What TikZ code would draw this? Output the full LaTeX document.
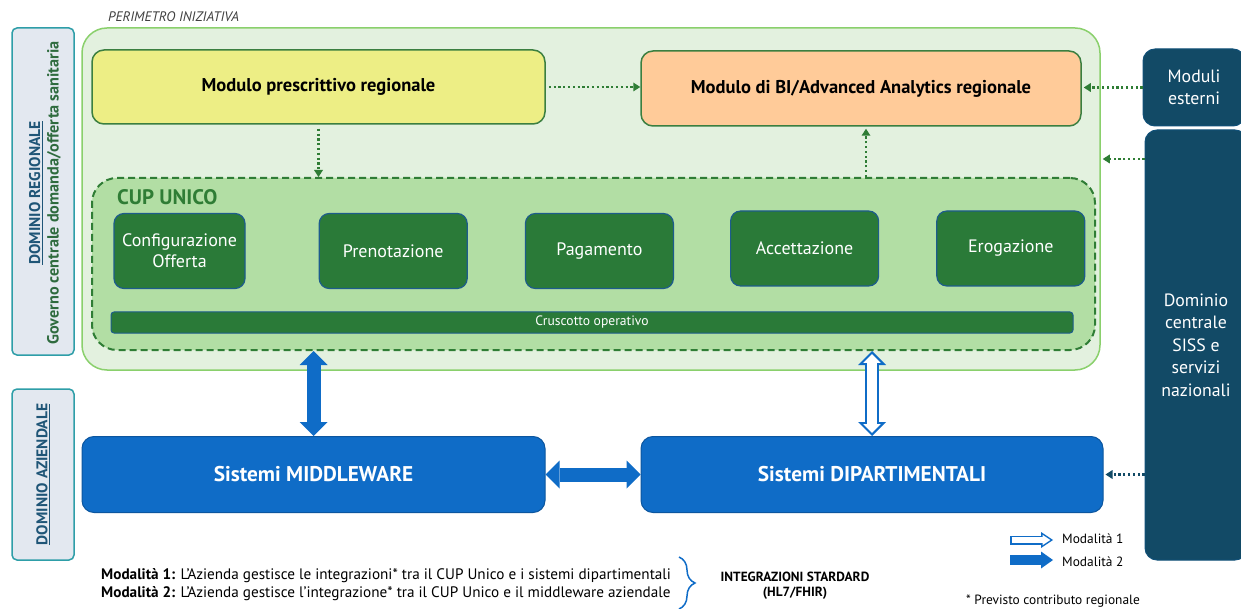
\documentclass[tikz,border=0pt]{standalone}
\usepackage{fontspec}
\setmainfont{PT Sans}
\usetikzlibrary{arrows.meta,positioning,decorations.pathreplacing}

\definecolor{perimfill}{HTML}{E3F1DF}
\definecolor{perimline}{HTML}{8AD06C}
\definecolor{prescr}{HTML}{EDEE85}
\definecolor{analytics}{HTML}{FFCB99}
\definecolor{modline}{HTML}{3B7F40}
\definecolor{cupfill}{HTML}{B2DEA4}
\definecolor{cupline}{HTML}{2F7D35}
\definecolor{funcfill}{HTML}{2A7A38}
\definecolor{funcline}{HTML}{1D5C8C}
\definecolor{navy}{HTML}{124A66}
\definecolor{sysblue}{HTML}{0F6CC7}
\definecolor{domfill}{HTML}{E3E8F0}
\definecolor{domline}{HTML}{2E9EA8}
\definecolor{domtext}{HTML}{1F5577}
\definecolor{govtext}{HTML}{2E6B3E}

\begin{document}
\begin{tikzpicture}[
    x=1pt, y=-1pt,
    every node/.style={inner sep=0pt},
    dombox/.style={rectangle, rounded corners=5pt, draw=domline, fill=domfill, line width=1.5pt, align=center, font=\fontsize{15.5}{19.5}\selectfont\bfseries},
    modbox/.style={rectangle, rounded corners=12pt, draw=modline, line width=1.5pt, font=\fontsize{18.5}{22}\selectfont\bfseries},
    func/.style={rectangle, rounded corners=10pt, draw=funcline, fill=funcfill, line width=1.2pt, text=white, minimum width=148pt, minimum height=75pt, align=center, font=\fontsize{18}{21}\selectfont},
    sys/.style={rectangle, rounded corners=12pt, draw=sysblue!80!black, fill=sysblue, line width=1pt, text=white, minimum width=463pt, minimum height=76pt, font=\fontsize{21.3}{24}\selectfont\bfseries},
    ext/.style={rectangle, rounded corners=12pt, draw=navy!80!sysblue, fill=navy, line width=1pt, text=white, minimum width=102pt, align=center, font=\fontsize{17.8}{22.5}\selectfont},
    flow/.style={cupline, line width=2.2pt, dash pattern=on 2.2pt off 2.6pt, -{Triangle[length=7pt,width=9pt,line width=0pt]}},
    both/.style={sysblue, line width=14pt, {Triangle[length=14pt,width=28pt,line width=0pt]}-{Triangle[length=14pt,width=28pt,line width=0pt]}},
    hollow/.style={white, line width=9.6pt, {Triangle[length=8.7pt,width=17.4pt,line width=0pt]}-{Triangle[length=8.7pt,width=17.4pt,line width=0pt]}, shorten <=3.1pt, shorten >=3.1pt},
    legarrow/.style={sysblue, line width=9pt, -{Triangle[length=12pt,width=16pt,line width=0pt]}, shorten >=9pt},
    legtext/.style={anchor=west, font=\fontsize{13.4}{15}\selectfont}
]
    \clip (0,0) rectangle (1241,609);
    \fill[white] (0,0) rectangle (1241,609);

    \node[dombox, rotate=90, minimum width=327pt, minimum height=62pt] (domreg) at (43,191.5) {};
    \node[rotate=90, align=center, font=\fontsize{16.2}{18.5}\selectfont\bfseries] (domreglbl) at (45,193)
        {\textcolor{domtext}{\fontsize{15.5}{18.5}\selectfont\underline{DOMINIO REGIONALE}}\\ \textcolor{govtext}{Governo centrale domanda/offerta sanitaria}};
    \node[dombox, rotate=90, minimum width=171pt, minimum height=62pt, text=domtext] (domaz) at (43,474.5)
        {\underline{DOMINIO AZIENDALE}};

    \node[draw=perimline, fill=perimfill, line width=1.5pt, rounded corners=25pt, minimum width=1018pt, minimum height=342pt] (perim) at (591,199) {};
    \node[anchor=west, font=\fontsize{13.8}{16}\selectfont\itshape, text=black!75] (perimlbl) at (108,17) {PERIMETRO INIZIATIVA};

    \node[modbox, fill=prescr, minimum width=453pt, minimum height=74pt] (prescr) at (318.5,87) {Modulo prescrittivo regionale};
    \node[modbox, fill=analytics, minimum width=440pt, minimum height=75pt] (bi) at (861,88.5) {Modulo di BI/Advanced Analytics regionale};

    \node[draw=cupline, fill=cupfill, line width=2pt, dash pattern=on 7pt off 4pt, rounded corners=25pt, minimum width=1003pt, minimum height=172pt] (cup) at (593.5,264) {};
    \node[anchor=west, text=cupline, font=\fontsize{21}{24}\selectfont\bfseries] (cuplbl) at (117,197) {CUP UNICO};

    \node[func, minimum width=131pt] (conf) at (179.5,251) {Configurazione\\Offerta};
    \node[func] (pren) [right=73pt of conf] {Prenotazione};
    \node[func] (pag) [right=57pt of pren] {Pagamento};
    \node[func] (acc) [right=56pt of pag, yshift=2.5pt] {Accettazione};
    \node[func] (ero) [right=57pt of acc] {Erogazione};
    \node[rectangle, rounded corners=3pt, draw=funcline, fill=funcfill, line width=1pt, text=white, minimum width=962pt, minimum height=21pt, font=\fontsize{13.6}{15}\selectfont] (crusc) at (592,322.5) {Cruscotto operativo};

    \node[ext, minimum height=77pt] (ext) at (1194,87.5) {Moduli\\esterni};
    \node[ext, minimum height=430pt] (siss) at (1196,345) {Dominio\\centrale\\SISS e\\servizi\\nazionali};

    \node[sys] (mw) at (313.5,474.5) {Sistemi MIDDLEWARE};
    \node[sys, minimum width=462pt] (dip) at (872,474.5) {Sistemi DIPARTIMENTALI};

    \draw[flow, shorten <=3pt] (prescr.east) -- (prescr.east -| bi.west);
    \draw[flow, shorten <=4pt] (prescr.south) -- (prescr.south |- cup.north);
    \draw[flow, shorten >=2pt] ([xshift=5pt]bi.south |- cup.north) -- ([xshift=5pt]bi.south);
    \draw[flow, shorten >=2pt] (ext.west) -- (ext.west -| bi.east);
    \coordinate (pin) at ([yshift=40pt]perim.east);
    \draw[flow, shorten >=2pt] (pin -| siss.west) -- (pin);
    \draw[flow, navy, shorten >=2pt] (dip.east -| siss.west) -- (dip.east);

    \draw[both] (mw.north |- cup.south) -- (mw.north);
    \draw[both] (mw.east) -- (dip.west);
    \draw[both] (dip.north |- cup.south) -- (dip.north);
    \draw[hollow] (dip.north |- cup.south) -- (dip.north);

    \node[legtext] (leg1) at (1062,539) {Modalità 1};
    \node[legtext] (leg2) at (1062,562) {Modalità 2};
    \coordinate (a1) at (1010,540);
    \coordinate (a2) at (1010,560);
    \draw[legarrow] (a1) -- (a1 -| leg1.west);
    \draw[white, line width=6pt, -{Triangle[length=7.8pt,width=10.4pt,line width=0pt]}, shorten >=11.7pt, shorten <=1.5pt] (a1) -- (a1 -| leg1.west);
    \draw[legarrow, line width=10pt, -{Triangle[length=12pt,width=17pt,line width=0pt]}] (a2) -- (a2 -| leg2.west);

    \node[anchor=west, font=\fontsize{15.2}{18}\selectfont] (mod1) at (101,576) {\textbf{Modalità 1:} L’Azienda gestisce le integrazioni* tra il CUP Unico e i sistemi dipartimentali};
    \node[anchor=west, font=\fontsize{15.2}{18}\selectfont] (mod2) at (101,594) {\textbf{Modalità 2:} L’Azienda gestisce l’integrazione* tra il CUP Unico e il middleware aziendale};
    \draw[sysblue, line width=1.5pt, decorate, decoration={brace, amplitude=16pt}] (679,557) -- (679,609);
    \node[align=center, font=\fontsize{13.3}{15}\selectfont\bfseries] (std) at (795,585.5) {INTEGRAZIONI STARDARD\\(HL7/FHIR)};
    \node[anchor=west, font=\fontsize{13.4}{15}\selectfont] (note) at (966,601) {* Previsto contributo regionale};
\end{tikzpicture}
\end{document}
